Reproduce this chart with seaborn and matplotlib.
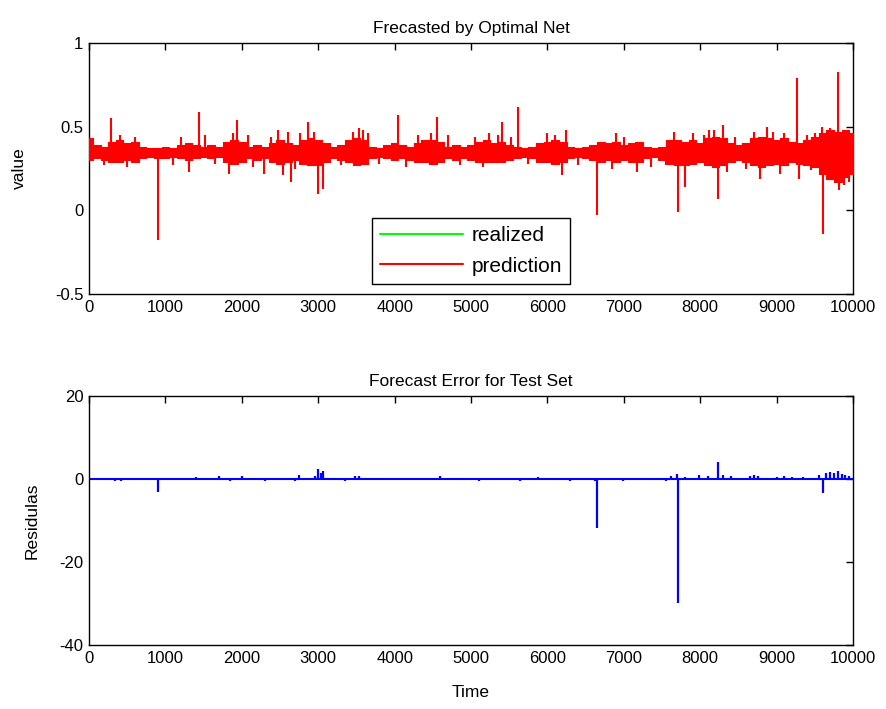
import numpy as np
import pandas as pd
import matplotlib
matplotlib.use("Agg")
import matplotlib.pyplot as plt
import seaborn as sns

# ---------------- data ----------------
band_time = list(range(0, 10001, 100))
pred_upper = [0.43, 0.39, 0.38, 0.41, 0.42, 0.40, 0.41, 0.38, 0.37, 0.37,
              0.38, 0.37, 0.39, 0.40, 0.39, 0.38, 0.39, 0.38, 0.41, 0.42,
              0.41, 0.38, 0.39, 0.38, 0.40, 0.42, 0.40, 0.39, 0.42, 0.43,
              0.42, 0.40, 0.38, 0.39, 0.42, 0.43, 0.42, 0.38, 0.37, 0.39,
              0.40, 0.39, 0.38, 0.40, 0.42, 0.42, 0.41, 0.38, 0.39, 0.38,
              0.39, 0.41, 0.42, 0.40, 0.41, 0.39, 0.38, 0.37, 0.38, 0.40,
              0.41, 0.42, 0.41, 0.38, 0.37, 0.38, 0.39, 0.41, 0.40, 0.41,
              0.39, 0.40, 0.41, 0.38, 0.37, 0.38, 0.42, 0.42, 0.41, 0.42,
              0.40, 0.43, 0.44, 0.43, 0.40, 0.39, 0.40, 0.43, 0.44, 0.43,
              0.42, 0.43, 0.41, 0.40, 0.42, 0.44, 0.46, 0.48, 0.47, 0.48, 0.46]
pred_lower = [0.30, 0.31, 0.30, 0.29, 0.29, 0.30, 0.29, 0.31, 0.32, 0.31,
              0.31, 0.32, 0.31, 0.30, 0.31, 0.32, 0.31, 0.32, 0.29, 0.28,
              0.29, 0.31, 0.30, 0.31, 0.29, 0.28, 0.29, 0.30, 0.28, 0.27,
              0.27, 0.29, 0.31, 0.30, 0.29, 0.27, 0.28, 0.31, 0.32, 0.31,
              0.30, 0.31, 0.30, 0.29, 0.29, 0.28, 0.29, 0.31, 0.30, 0.31,
              0.30, 0.29, 0.29, 0.29, 0.29, 0.30, 0.31, 0.32, 0.31, 0.29,
              0.29, 0.28, 0.29, 0.31, 0.32, 0.31, 0.30, 0.29, 0.30, 0.29,
              0.30, 0.29, 0.29, 0.31, 0.32, 0.30, 0.28, 0.27, 0.27, 0.28,
              0.29, 0.27, 0.26, 0.27, 0.29, 0.30, 0.29, 0.27, 0.26, 0.27,
              0.28, 0.27, 0.29, 0.28, 0.27, 0.26, 0.22, 0.19, 0.17, 0.20, 0.22]

spike_time = [288, 903, 1309, 1440, 1833, 1937, 2290, 2474, 2540, 2644,
              2866, 2997, 3063, 3534, 4045, 4555, 5406, 5615, 6191, 6243,
              6649, 7173, 7709, 7801, 8115, 8233, 8298, 8783, 8874, 9267,
              9293, 9594, 9607, 9804, 9820, 9880, 9950,
              400, 600, 1200, 1520, 1880, 2080, 2380, 2600, 2760, 2950,
              3450, 3580, 3650, 4300, 4480, 4700, 5050, 5230, 5350, 5520,
              6000, 6100, 6900, 7000, 7650, 7900, 8050, 8180, 8450, 8700,
              8950, 9100, 9400, 9500, 9700, 9900,
              200, 500, 1100, 1650, 2150, 2700, 3300, 3800, 4150, 4850,
              5150, 5750, 6400, 6850, 7350, 7550, 8350, 8600, 9050, 9450]
spike_value = [0.55, -0.18, 0.23, 0.585, 0.22, 0.54, 0.22, 0.48, 0.21, 0.17,
               0.53, 0.10, 0.13, 0.49, 0.57, 0.56, 0.53, 0.615, 0.21, 0.48,
               -0.03, 0.23, -0.01, 0.14, 0.48, 0.07, 0.51, 0.19, 0.50, 0.79,
               0.19, 0.50, -0.14, 0.825, 0.12, 0.15, 0.17,
               0.45, 0.44, 0.44, 0.45, 0.46, 0.45, 0.44, 0.47, 0.46, 0.47,
               0.47, 0.48, 0.46, 0.45, 0.46, 0.45, 0.44, 0.46, 0.45, 0.44,
               0.46, 0.45, 0.46, 0.44, 0.47, 0.46, 0.45, 0.48, 0.44, 0.47,
               0.47, 0.46, 0.45, 0.46, 0.49, 0.48,
               0.27, 0.26, 0.27, 0.28, 0.26, 0.25, 0.27, 0.28, 0.26, 0.27,
               0.26, 0.28, 0.27, 0.25, 0.26, 0.27, 0.23, 0.25, 0.22, 0.24]

resid_time = [340, 420, 903, 1400, 1700, 1850, 2000, 2300, 2700, 2750,
              2960, 3000, 3030, 3060, 3350, 3480, 3530, 4600, 5100, 5640,
              5870, 6300, 6620, 6649, 6990, 7550, 7620, 7690, 7709, 7800,
              7980, 8100, 8233, 8300, 8400, 8650, 8700, 8750, 9000, 9100,
              9200, 9350, 9560, 9607, 9650, 9700, 9750, 9800, 9850, 9900, 9950]
resid_value = [-0.5, -0.4, -3.2, 0.5, 0.6, -0.4, 0.8, -0.5, -0.5, 1.0,
               0.8, 2.4, 1.5, 2.0, -0.4, 0.8, 0.8, 0.6, -0.5, -0.5,
               0.5, -0.4, -0.6, -11.8, -0.6, -0.5, 0.8, 1.2, -29.9, 0.5,
               1.0, 0.6, 4.1, 1.0, 0.8, 0.7, 1.0, 0.6, 0.5, 0.6,
               0.5, 0.4, 1.0, -3.4, 1.5, 1.8, 1.5, 2.0, 1.2, 1.0, 0.8]

baseline = 0.345

# ---------------- styling ----------------
sns.set_style("white")
plt.rcParams['font.family'] = ['Liberation Sans', 'DejaVu Sans']
plt.rcParams['font.size'] = 12
plt.rcParams['axes.unicode_minus'] = False
plt.rcParams['text.color'] = 'black'
plt.rcParams['axes.labelcolor'] = 'black'

fig = plt.figure(figsize=(8.86, 7.09), dpi=100)
ax1 = fig.add_axes([0.1005, 0.5853, 0.8623, 0.354])
ax2 = fig.add_axes([0.1005, 0.0903, 0.8623, 0.3512])

RED = (1, 0, 0)
GREEN = (0, 1, 0)
BLUE = (0, 0, 1)

df_band = pd.DataFrame({"Time": band_time,
                        "mid": [(u + l) / 2 for u, l in zip(pred_upper, pred_lower)]})

# realized (hidden beneath prediction), then prediction
sns.lineplot(data=df_band, x="Time", y="mid", color=GREEN, lw=1.5, ax=ax1,
             label="realized", zorder=1)
ax1.fill_between(band_time, pred_lower, pred_upper, step="mid", color=GREEN, lw=0, zorder=1)
sns.lineplot(data=df_band, x="Time", y="mid", color=RED, lw=1.5, ax=ax1,
             label="prediction", zorder=3)
ax1.fill_between(band_time, pred_lower, pred_upper, step="mid", color=RED,
                 lw=0.8, edgecolor=RED, zorder=3)
ax1.vlines(spike_time, baseline, spike_value, color=RED, lw=1.5, zorder=3)

ax1.set_xlim(0, 10000)
ax1.set_ylim(-0.5, 1)
ax1.set_xticks(range(0, 10001, 1000))
ax1.set_yticks([-0.5, 0, 0.5, 1])
ax1.set_yticklabels(["-0.5", "0", "0.5", "1"])
ax1.set_title("Frecasted by Optimal Net", fontsize=12.5, pad=7, color="black")
ax1.set_ylabel("value", fontsize=12.5, labelpad=20)
ax1.set_xlabel("")

leg = ax1.legend(loc="lower center", bbox_to_anchor=(0.5, 0.04), fontsize=15,
                 frameon=True, fancybox=False, edgecolor="black", framealpha=1,
                 handlelength=4.0, borderpad=0.4, labelspacing=0.55,
                 handletextpad=0.4, borderaxespad=0)
leg.get_frame().set_linewidth(1.0)
for h in leg.get_lines():
    h.set_linewidth(1.5)

# residuals
sns.lineplot(x=[0, 10000], y=[0, 0], color=BLUE, lw=1.5, ax=ax2)
ax2.vlines(resid_time, 0, resid_value, color=BLUE, lw=1.6)
ax2.set_xlim(0, 10000)
ax2.set_ylim(-40, 20)
ax2.set_xticks(range(0, 10001, 1000))
ax2.set_yticks([-40, -20, 0, 20])
ax2.set_title("Forecast Error for Test Set", fontsize=12.5, pad=7, color="black")
ax2.set_ylabel("Residulas", fontsize=12.5, labelpad=14)
ax2.set_xlabel("Time", fontsize=12.5, labelpad=14)

for ax in (ax1, ax2):
    ax.tick_params(direction="in", length=5, width=1, top=True, right=True,
                   labelsize=12, pad=4, colors="black")
    for s in ax.spines.values():
        s.set_visible(True)
        s.set_color("black")
        s.set_linewidth(1.0)

fig.savefig("out.png", dpi=100, facecolor="white")
